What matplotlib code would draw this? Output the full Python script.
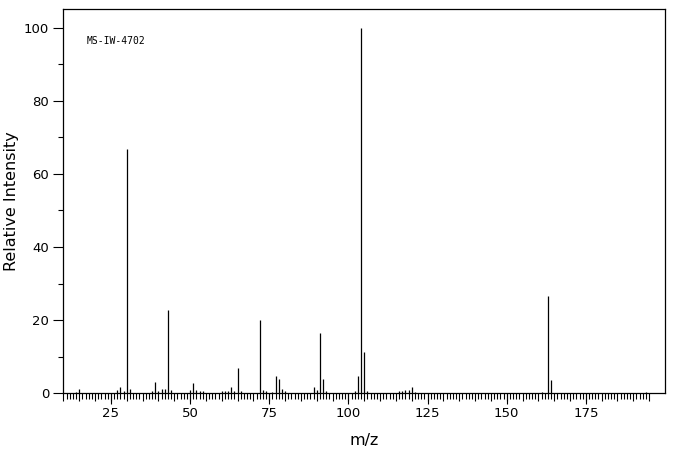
import numpy as np
import matplotlib
matplotlib.use("Agg")
import matplotlib.pyplot as plt
from matplotlib.ticker import FixedLocator, NullFormatter

# peaks (m/z, relative intensity)
mz = [14, 15, 27, 28, 29, 30, 31, 38, 39, 40, 41, 42, 43, 44,
      50, 51, 52, 53, 54, 60, 61, 62, 63, 64, 65, 66,
      72, 73, 74, 76, 77, 78, 79, 80, 89, 90, 91, 92, 93,
      102, 103, 104, 105, 106, 116, 117, 118, 119, 120, 121,
      161, 163, 164, 165, 194]
intensity = [0.45, 1.2, 0.9, 1.6, 0.6, 66.7, 1.2, 0.5, 3.2, 0.6, 1.1, 1.2, 22.8, 0.9,
             0.9, 2.8, 0.9, 0.5, 0.5, 0.5, 0.5, 0.6, 1.8, 0.6, 6.9, 0.6,
             20.0, 0.8, 0.6, 0.4, 4.6, 3.9, 1.2, 0.5, 1.8, 0.9, 16.5, 3.9, 0.7,
             0.7, 4.8, 100.0, 11.4, 0.7, 0.5, 0.7, 0.9, 0.9, 1.6, 0.3,
             0.3, 26.6, 3.7, 0.2, 0.4]
label = "MS-IW-4702"

x_major = [25, 50, 75, 100, 125, 150, 175]
y_major = [0, 20, 40, 60, 80, 100]

fig = plt.figure(figsize=(6.76, 4.55), dpi=100)
ax = fig.add_axes([0.0939, 0.1356, 0.9837 - 0.0939, 0.9796 - 0.1356])

ax.vlines(mz, 0, intensity, color="k", lw=0.9)

ax.set_xlim(10, 200)
ax.set_ylim(0, 105)

for s in ax.spines.values():
    s.set_linewidth(0.9)

# x ticks: every 1 short, every 5 medium, every 25 long with labels
ax.xaxis.set_major_locator(FixedLocator(np.arange(10, 196, 5)))
ax.xaxis.set_minor_locator(FixedLocator(np.arange(10, 196, 1)))
ax.xaxis.set_major_formatter(NullFormatter())
ax.tick_params(axis="x", which="major", direction="out", length=5.4, width=0.8)
ax.tick_params(axis="x", which="minor", direction="out", length=4.0, width=0.8)

sec = ax.secondary_xaxis("bottom")
sec.set_xticks(x_major)
sec.tick_params(direction="out", length=7.6, width=0.8, pad=2.5, labelsize=9.5)
sec.spines["bottom"].set_visible(False)
sec.set_xlabel("m/z", fontsize=11.5, labelpad=9)

ax.set_yticks(y_major)
ax.yaxis.set_minor_locator(FixedLocator([10, 30, 50, 70, 90]))
ax.tick_params(axis="y", which="major", direction="out", length=7.2, width=0.8, pad=3, labelsize=9.5)
ax.tick_params(axis="y", which="minor", direction="out", length=3.6, width=0.8)
ax.set_ylabel("Relative Intensity", fontsize=11.5, labelpad=4)

ax.text(0.039, 0.917, label, transform=ax.transAxes, fontsize=7,
        family="DejaVu Sans Mono", va="center", ha="left")

fig.savefig("out.png", dpi=100)
